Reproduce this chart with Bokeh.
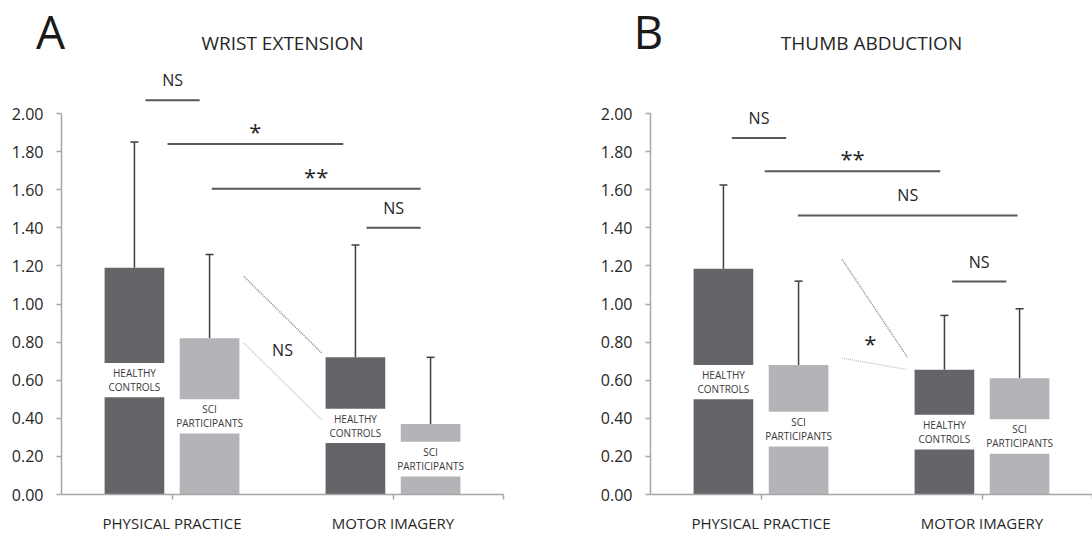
from bokeh.plotting import figure
from bokeh.models import Range1d, FixedTicker, Whisker, TeeHead, Label, ColumnDataSource, NumeralTickFormatter
from bokeh.layouts import row
from bokeh.embed import file_html
from bokeh.resources import INLINE
from bokeh.core.properties import value

# ---------------- data ----------------
groups = ["PHYSICAL PRACTICE", "MOTOR IMAGERY"]
group_pos = [0.5, 1.5]
series_lines = [["HEALTHY", "CONTROLS"], ["SCI", "PARTICIPANTS"]]
y_ticks = [0.0, 0.2, 0.4, 0.6, 0.8, 1.0, 1.2, 1.4, 1.6, 1.8, 2.0]

# Panel A - wrist extension
a_hc_mean = [1.19, 0.72]
a_hc_err = [1.85, 1.31]
a_hc_gap_lo = [0.51, 0.27]
a_hc_gap_hi = [0.69, 0.45]
a_sci_mean = [0.82, 0.37]
a_sci_err = [1.26, 0.72]
a_sci_gap_lo = [0.32, 0.095]
a_sci_gap_hi = [0.50, 0.277]
a_sig_x0 = [0.38, 0.48, 0.68, 1.38]
a_sig_x1 = [0.625, 1.275, 1.625, 1.625]
a_sig_y = [2.07, 1.84, 1.605, 1.40]
a_sig_text = ["NS", "*", "**", "NS"]
a_dot_x0 = [0.825, 0.825]
a_dot_y0 = [1.145, 0.795]
a_dot_x1 = [1.18, 1.18]
a_dot_y1 = [0.74, 0.39]
a_dot_text = ["NS"]
a_dot_text_x = [1.0]
a_dot_text_y = [0.76]

# Panel B - thumb abduction
b_hc_mean = [1.185, 0.655]
b_hc_err = [1.625, 0.94]
b_hc_gap_lo = [0.50, 0.236]
b_hc_gap_hi = [0.68, 0.418]
b_sci_mean = [0.68, 0.61]
b_sci_err = [1.12, 0.975]
b_sci_gap_lo = [0.252, 0.214]
b_sci_gap_hi = [0.434, 0.395]
b_sig_x0 = [0.368, 0.517, 0.667, 1.365]
b_sig_x1 = [0.614, 1.311, 1.661, 1.61]
b_sig_y = [1.872, 1.697, 1.465, 1.118]
b_sig_text = ["NS", "**", "NS", "NS"]
b_dot_x0 = [0.867, 0.867]
b_dot_y0 = [1.234, 0.716]
b_dot_x1 = [1.164, 1.158]
b_dot_y1 = [0.718, 0.656]
b_dot_text = ["*"]
b_dot_text_x = [0.995]
b_dot_text_y = [0.80]

# ---------------- style ----------------
FONT = value("Open Sans")
DARK = "#646568"
LIGHT = "#b3b4b7"
TXT = "#262626"
AXIS = "#a6a6a6"
OFFSET = 0.17
BAR_W = 0.27
PX_PER_X = 221.0
PX_PER_Y = 190.5
W, H = 546, 540
ZERO_PX = 494


def make_panel(letter, letter_x, title, hc, sci, sig, dots, axis_px):
    x_start = -axis_px / PX_PER_X
    x_end = (W - axis_px) / PX_PER_X
    y_start = -(H - ZERO_PX) / PX_PER_Y
    y_end = ZERO_PX / PX_PER_Y
    p = figure(width=W, height=H, title=None, output_backend="svg", toolbar_location=None,
               x_range=Range1d(x_start, x_end), y_range=Range1d(y_start, y_end),
               min_border_left=0, min_border_right=0,
               min_border_top=0, min_border_bottom=0)
    p.outline_line_color = None
    p.grid.visible = False
    p.background_fill_color = "white"
    p.border_fill_color = "white"

    for (mean, err, glo, ghi), off, color, lines in zip(
            [hc, sci], [-OFFSET, OFFSET], [DARK, LIGHT], series_lines):
        xs = [g + off for g in group_pos]
        src = ColumnDataSource(dict(x=xs, mean=mean, err=err, glo=glo, ghi=ghi,
                                    mid=[(a + b) / 2 for a, b in zip(glo, ghi)],
                                    l1=[lines[0]] * len(xs), l2=[lines[1]] * len(xs)))
        p.vbar(x="x", width=BAR_W, bottom=0, top="glo", source=src, fill_color=color, line_color=None)
        p.vbar(x="x", width=BAR_W, bottom="ghi", top="mean", source=src, fill_color=color, line_color=None)
        p.add_layout(Whisker(base="x", lower="mean", upper="err", source=src,
                             line_color="#3f3f3f", line_width=1.5,
                             upper_head=TeeHead(size=8, line_color="#3f3f3f", line_width=1.5),
                             lower_head=None))
        for col, dy in (("l1", -7), ("l2", 7)):
            p.text(x="x", y="mid", text=col, source=src, text_font=FONT, text_font_size="10px",
                   text_color="#3a3a3a", text_align="center", text_baseline="middle", y_offset=dy)

    x0, x1, ys, texts = sig
    p.segment(x0=x0, y0=ys, x1=x1, y1=ys, line_color="#595959", line_width=2)
    ns = [i for i, t in enumerate(texts) if t == "NS"]
    st = [i for i, t in enumerate(texts) if t != "NS"]
    for idx, size, dy in ((ns, "16px", -20), (st, "22px", -13)):
        src = ColumnDataSource(dict(x=[(x0[i] + x1[i]) / 2 for i in idx],
                                    y=[ys[i] for i in idx], t=[texts[i] for i in idx]))
        p.text(x="x", y="y", text="t", source=src, text_font=FONT, text_font_size=size,
               text_color=TXT, text_align="center", text_baseline="alphabetic", y_offset=dy)

    dx0, dy0, dx1, dy1, dt, dtx, dty = dots
    p.segment(x0=dx0[:1], y0=dy0[:1], x1=dx1[:1], y1=dy1[:1], line_color="#8c8c8c",
              line_width=1.5, line_dash="1 1")
    p.segment(x0=dx0[1:], y0=dy0[1:], x1=dx1[1:], y1=dy1[1:], line_color="#c8c8c8",
              line_width=1.5, line_dash="1 1")
    is_star = dt[0] != "NS"
    p.text(x=dtx, y=dty, text=dt, text_font=FONT, text_font_size="22px" if is_star else "16px",
           text_color=TXT, text_align="center", text_baseline="middle",
           y_offset=1 if is_star else 0)

    # axes (placed at the data origin, inside the frame)
    ya = p.yaxis[0]
    ya.fixed_location = 0
    ya.ticker = FixedTicker(ticks=y_ticks)
    ya.formatter = NumeralTickFormatter(format="0.00")
    ya.bounds = (0, 2)
    ya.axis_line_color = AXIS
    ya.axis_line_width = 1.5
    ya.major_tick_line_color = AXIS
    ya.major_tick_line_width = 1.5
    ya.major_tick_out = 5
    ya.major_tick_in = 0
    ya.minor_tick_line_color = None
    ya.major_label_standoff = 13
    ya.major_label_text_font = "Open Sans"
    ya.major_label_text_font_size = "16px"
    ya.major_label_text_color = TXT

    xa = p.xaxis[0]
    xa.fixed_location = 0
    xa.ticker = FixedTicker(ticks=group_pos + [2])
    xa.major_label_overrides = {0.5: groups[0], 1.5: groups[1], 2: ""}
    xa.bounds = (0, 2)
    xa.axis_line_color = AXIS
    xa.axis_line_width = 1.5
    xa.major_tick_line_color = AXIS
    xa.major_tick_line_width = 1.5
    xa.major_tick_out = 5
    xa.major_tick_in = 0
    xa.minor_tick_line_color = None
    xa.major_label_standoff = 13
    xa.major_label_text_font = "Open Sans"
    xa.major_label_text_font_size = "15px"
    xa.major_label_text_color = TXT

    p.add_layout(Label(x=letter_x, y=2.432, text=letter,
                       text_font="Open Sans", text_font_size="46px", text_color="#1a1a1a",
                       text_align="center", text_baseline="alphabetic"))
    p.add_layout(Label(x=1.0, y=2.368, text=title, text_font="Open Sans", text_font_size="19px",
                       text_color=TXT, text_align="center", text_baseline="alphabetic"))
    return p


pA = make_panel("A", -0.05, "WRIST EXTENSION",
                (a_hc_mean, a_hc_err, a_hc_gap_lo, a_hc_gap_hi),
                (a_sci_mean, a_sci_err, a_sci_gap_lo, a_sci_gap_hi),
                (a_sig_x0, a_sig_x1, a_sig_y, a_sig_text),
                (a_dot_x0, a_dot_y0, a_dot_x1, a_dot_y1, a_dot_text, a_dot_text_x, a_dot_text_y),
                axis_px=61)
pB = make_panel("B", -0.01, "THUMB ABDUCTION",
                (b_hc_mean, b_hc_err, b_hc_gap_lo, b_hc_gap_hi),
                (b_sci_mean, b_sci_err, b_sci_gap_lo, b_sci_gap_hi),
                (b_sig_x0, b_sig_x1, b_sig_y, b_sig_text),
                (b_dot_x0, b_dot_y0, b_dot_x1, b_dot_y1, b_dot_text, b_dot_text_x, b_dot_text_y),
                axis_px=104)

layout = row(pA, pB)
open("out.html", "w").write(file_html(layout, INLINE))
